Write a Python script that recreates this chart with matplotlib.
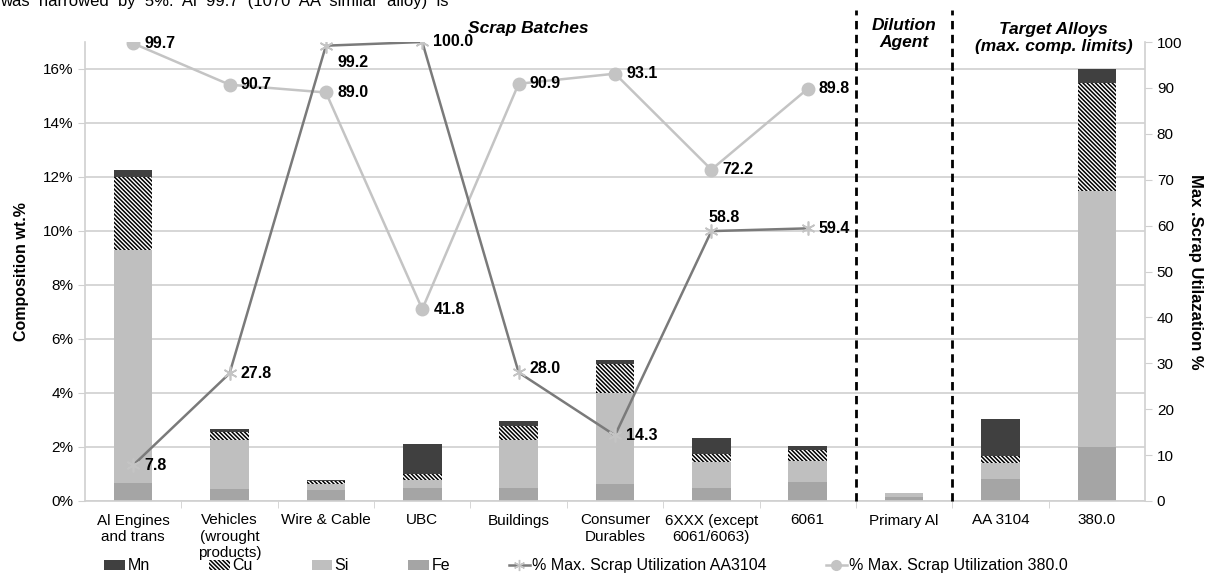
import numpy as np
import matplotlib
matplotlib.use('Agg')
import matplotlib.pyplot as plt
from matplotlib.patches import Patch
from matplotlib.lines import Line2D

plt.rcParams['font.family'] = ['Liberation Sans', 'DejaVu Sans']
plt.rcParams['hatch.linewidth'] = 1.1

categories = ['Al Engines\nand trans', 'Vehicles\n(wrought\nproducts)', 'Wire & Cable', 'UBC',
              'Buildings', 'Consumer\nDurables', '6XXX (except\n6061/6063)', '6061',
              'Primary Al', 'AA 3104', '380.0']

# composition wt.% (stacked: Fe, Si, Cu, Mn)
fe = [0.67, 0.46, 0.40, 0.49, 0.49, 0.62, 0.49, 0.70, 0.15, 0.80, 2.00]
si = [8.61, 1.79, 0.24, 0.30, 1.78, 3.39, 0.95, 0.80, 0.13, 0.60, 9.50]
cu = [2.72, 0.31, 0.09, 0.22, 0.51, 1.07, 0.29, 0.40, 0.01, 0.25, 4.00]
mn = [0.25, 0.12, 0.06, 1.09, 0.18, 0.14, 0.62, 0.15, 0.01, 1.40, 0.50]

# max scrap utilization % (first 8 categories)
util_3104 = [7.8, 27.8, 99.2, 100.0, 28.0, 14.3, 58.8, 59.4]
util_380 = [99.7, 90.7, 89.0, 41.8, 90.9, 93.1, 72.2, 89.8]

c_mn = '#404040'
c_si = '#bfbfbf'
c_fe = '#a5a5a5'
c_l1 = '#7a7a7a'
c_l2 = '#c4c4c4'
c_grid = '#d0d0d0'
hatch_cu = '\\' * 8

fig = plt.figure(figsize=(12.1, 5.79), dpi=100)
ax = fig.add_axes([85 / 1210, 1 - 501 / 579, 1060 / 1210, 459 / 579])
x = np.arange(len(categories))
w = 0.4

b1 = np.array(fe)
b2 = b1 + np.array(si)
b3 = b2 + np.array(cu)
ax.bar(x, fe, w, color=c_fe, zorder=2)
ax.bar(x, si, w, bottom=b1, color=c_si, zorder=2)
ax.bar(x, cu, w, bottom=b2, color='white', edgecolor='black', hatch=hatch_cu, linewidth=0, zorder=2)
ax.bar(x, mn, w, bottom=b3, color=c_mn, zorder=2)

ax.set_xlim(-0.5, 10.5)
ax.set_ylim(0, 17)
ax.set_yticks(np.arange(0, 17, 2))
ax.set_yticklabels([f'{v}%' for v in range(0, 17, 2)], fontsize=11)
ax.yaxis.grid(True, color=c_grid, linewidth=1.2, zorder=0)
ax.set_axisbelow(True)
ax.set_xticks(x)
ax.set_xticklabels(categories, fontsize=11, linespacing=1.2)
ax.set_xticks(np.arange(0.5, 10, 1), minor=True)
ax.tick_params(axis='x', which='major', length=0, pad=9)
ax.tick_params(axis='x', which='minor', length=5, color=c_grid)
ax.tick_params(axis='y', length=5, color=c_grid)
for s in ['top', 'right']:
    ax.spines[s].set_visible(False)
for s in ['left', 'bottom']:
    ax.spines[s].set_color(c_grid)
    ax.spines[s].set_linewidth(1.2)
ax.set_ylabel('Composition wt.%', fontsize=11.5, fontweight='bold', labelpad=10)

# section separators
for xv in [7.5, 8.5]:
    ax.plot([xv, xv], [0, 18.2], color='black', linewidth=2, linestyle=(0, (3, 2)),
            clip_on=False, zorder=3)

ax2 = ax.twinx()
ax2.set_ylim(0, 100)
ax2.set_yticks(np.arange(0, 101, 10))
ax2.tick_params(axis='y', labelsize=11, length=5, color=c_grid)
for s in ['top', 'left', 'bottom']:
    ax2.spines[s].set_visible(False)
ax2.spines['right'].set_color(c_grid)
ax2.spines['right'].set_linewidth(1.2)
ax2.set_ylabel('Max .Scrap Utilazation %', fontsize=12, fontweight='bold', rotation=270, labelpad=15)

xl = np.arange(len(util_3104))
ax2.plot(xl, util_380, color=c_l2, linewidth=1.8, marker='o', markersize=9,
         markerfacecolor=c_l2, markeredgecolor=c_l2, zorder=4)
ax2.plot(xl, util_3104, color=c_l1, linewidth=1.8, marker=(6, 2, 0), markersize=10,
         markeredgecolor=c_l2, markeredgewidth=1.2, zorder=5)

lab_kw = dict(fontsize=11.5, fontweight='bold', va='center', ha='left', zorder=6)
for i, v in enumerate(util_380):
    ax2.annotate(f'{v:.1f}', (i, v), xytext=(8, 0), textcoords='offset points', **lab_kw)
offs_3104 = [(8, 0), (8, 0), (8, -12), (8, 0), (8, 3), (8, 0), (-2, 10), (8, 0)]
for i, v in enumerate(util_3104):
    ax2.annotate(f'{v:.1f}', (i, v), xytext=offs_3104[i], textcoords='offset points', **lab_kw)

# section headings
head_kw = dict(fontsize=12.5, fontweight='bold', style='italic', ha='center', va='center', linespacing=1.1)
ax.text(4.1, 17.5, 'Scrap Batches', **head_kw)
ax.text(8.0, 17.3, 'Dilution\nAgent', **head_kw)
ax.text(9.55, 17.15, 'Target Alloys\n(max. comp. limits)', **head_kw)

fig.text(0.0, 1 - 6 / 579, 'was  narrowed  by  5%.  Al  99.7  (1070  AA  similar  alloy)  is', fontsize=12,
         ha='left', va='baseline')

handles = [Patch(facecolor=c_mn), Patch(facecolor='white', edgecolor='black', hatch=hatch_cu, linewidth=0),
           Patch(facecolor=c_si), Patch(facecolor=c_fe),
           Line2D([], [], color=c_l1, linewidth=1.8, marker=(6, 2, 0), markersize=8, markeredgecolor=c_l2),
           Line2D([], [], color=c_l2, linewidth=1.8, marker='o', markersize=7, markerfacecolor=c_l2,
                  markeredgecolor=c_l2)]
labels = ['Mn', 'Cu', 'Si', 'Fe', '% Max. Scrap Utilization AA3104', '% Max. Scrap Utilization 380.0']
fig.legend(handles, labels, loc='lower left', bbox_to_anchor=(90 / 1210, -0.015), ncol=6, frameon=False,
           fontsize=11.5, handlelength=1.3, handleheight=0.6, handletextpad=0.15, columnspacing=3.7)

fig.savefig('out.png', dpi=100)
